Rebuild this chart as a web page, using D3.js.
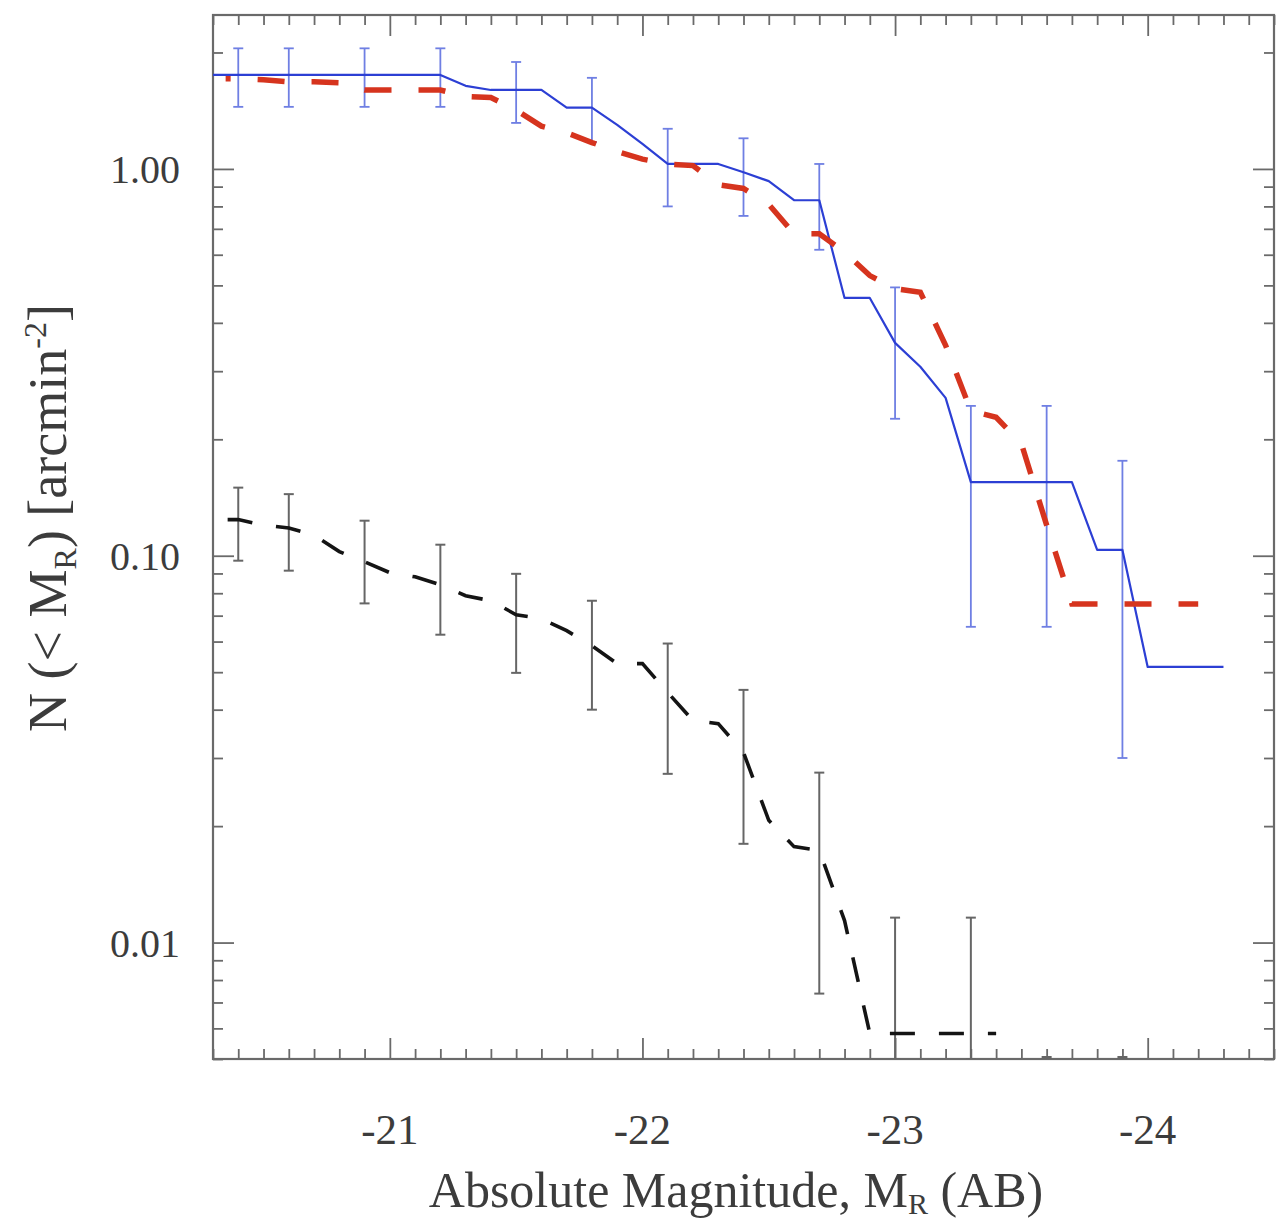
<!DOCTYPE html>
<html>
<head>
<meta charset="utf-8">
<script src="https://cdn.jsdelivr.net/npm/d3@7"></script>
<style>
  html, body { margin: 0; padding: 0; background: #fff; }
  svg { display: block; }
  text { font-family: "Liberation Serif", "DejaVu Serif", serif; fill: #3c3c3c; }
</style>
</head>
<body>
<svg id="chart" width="1276" height="1220"></svg>
<script>
// ---------- data ----------
const blueMag = [-20.3, -21.2, -21.3, -21.4, -21.5, -21.6, -21.7, -21.8, -21.9, -22.0, -22.1, -22.2, -22.3, -22.4, -22.5, -22.6, -22.7, -22.8, -22.9, -23.0, -23.1, -23.2, -23.3, -23.4, -23.5, -23.6, -23.7, -23.8, -23.9, -24.0, -24.1, -24.2, -24.3];
const blueN   = [1.75, 1.75, 1.64, 1.60, 1.60, 1.60, 1.44, 1.44, 1.30, 1.16, 1.03, 1.03, 1.03, 0.98, 0.93, 0.83, 0.83, 0.464, 0.464, 0.355, 0.308, 0.256, 0.155, 0.155, 0.155, 0.155, 0.155, 0.1035, 0.1035, 0.0516, 0.0516, 0.0516, 0.0516];

const redMag = [-20.35, -20.4, -20.5, -20.6, -20.7, -20.8, -20.9, -21.0, -21.1, -21.2, -21.3, -21.4, -21.5, -21.6, -21.7, -21.8, -21.9, -22.0, -22.1, -22.2, -22.3, -22.4, -22.5, -22.6, -22.7, -22.8, -22.9, -23.0, -23.1, -23.2, -23.3, -23.4, -23.5, -23.6, -23.7, -23.8, -23.9, -24.0, -24.1, -24.2];
const redN   = [1.71, 1.71, 1.70, 1.68, 1.68, 1.67, 1.60, 1.60, 1.60, 1.60, 1.54, 1.53, 1.42, 1.29, 1.24, 1.17, 1.11, 1.06, 1.03, 1.02, 0.91, 0.89, 0.81, 0.68, 0.68, 0.61, 0.53, 0.49, 0.48, 0.35, 0.237, 0.228, 0.195, 0.12, 0.075, 0.075, 0.075, 0.075, 0.075, 0.075];

const blackMag = [-20.35, -20.4, -20.5, -20.6, -20.7, -20.8, -20.9, -21.0, -21.1, -21.2, -21.3, -21.4, -21.5, -21.6, -21.7, -21.8, -21.9, -22.0, -22.1, -22.2, -22.3, -22.4, -22.5, -22.6, -22.7, -22.8, -22.9, -23.0, -23.1, -23.2, -23.3, -23.4];
const blackN   = [0.124, 0.124, 0.120, 0.118, 0.113, 0.1025, 0.0965, 0.0904, 0.0882, 0.0841, 0.0788, 0.0765, 0.0704, 0.0687, 0.0640, 0.0585, 0.0526, 0.0526, 0.0443, 0.0375, 0.0368, 0.0310, 0.0207, 0.0177, 0.0173, 0.0114, 0.00582, 0.00582, 0.00582, 0.00582, 0.00582, 0.00582];

const errMag      = [-20.4, -20.6, -20.9, -21.2, -21.5, -21.8, -22.1, -22.4, -22.7, -23.0, -23.3, -23.6, -23.9];
const blueErrHi   = [2.05, 2.05, 2.05, 2.05, 1.89, 1.72, 1.27, 1.20, 1.03, 0.494, 0.244, 0.244, 0.176];
const blueErrLo   = [1.447, 1.447, 1.447, 1.447, 1.315, 1.174, 0.80, 0.756, 0.618, 0.226, 0.0655, 0.0655, 0.0300];
const blackErrHi  = [0.150, 0.1443, 0.1232, 0.1068, 0.0898, 0.0765, 0.0593, 0.0450, 0.0275, 0.0116, 0.0116, 0.00506, 0.00506];
const blackErrLo  = [0.0971, 0.0915, 0.0753, 0.0625, 0.0498, 0.0400, 0.0273, 0.0180, 0.00738, 0.002, 0.002, 0.002, 0.002];

const xMajor = [-21, -22, -23, -24];
const xMajorLabels = ["-21", "-22", "-23", "-24"];
const yMajor = [1, 0.1, 0.01];
const yMajorLabels = ["1.00", "0.10", "0.01"];

// ---------- layout ----------
const L = 213, R = 1274, T = 15, B = 1059;
const svg = d3.select("#chart");
const x = d3.scaleLinear().domain([-20.3, -24.5]).range([L, R]);
const y = d3.scaleLog().domain([0.005, 2.5]).range([B, T]);

// minor tick values
const xMinor = d3.range(-203, -246, -1).map(d => d / 10).filter(v => !xMajor.some(m => Math.abs(m - v) < 1e-9));
const yMinor = [];
[0.001, 0.01, 0.1, 1].forEach(dec => { for (let k = 2; k <= 9; k++) { const v = +(dec * k).toPrecision(3); if (v >= 0.005 && v <= 2.5) yMinor.push(v); } });

svg.append("clipPath").attr("id", "clip").append("rect")
  .attr("x", L).attr("y", T).attr("width", R - L).attr("height", B - T);

const axisColor = "#6a6a6a";
function styleAxis(g) {
  g.select(".domain").remove();
  g.selectAll("line").attr("stroke", axisColor).attr("stroke-width", 1.8);
  g.selectAll("text").remove();
}
// bottom/top x ticks (inward)
svg.append("g").attr("transform", `translate(0,${B})`).call(d3.axisBottom(x).tickValues(xMinor).tickSize(-10)).call(styleAxis);
svg.append("g").attr("transform", `translate(0,${B})`).call(d3.axisBottom(x).tickValues(xMajor).tickSize(-21)).call(styleAxis);
svg.append("g").attr("transform", `translate(0,${T})`).call(d3.axisTop(x).tickValues(xMinor).tickSize(-10)).call(styleAxis);
svg.append("g").attr("transform", `translate(0,${T})`).call(d3.axisTop(x).tickValues(xMajor).tickSize(-21)).call(styleAxis);
// left/right y ticks (inward)
svg.append("g").attr("transform", `translate(${L},0)`).call(d3.axisLeft(y).tickValues(yMinor).tickSize(-10)).call(styleAxis);
svg.append("g").attr("transform", `translate(${L},0)`).call(d3.axisLeft(y).tickValues(yMajor).tickSize(-21)).call(styleAxis);
svg.append("g").attr("transform", `translate(${R},0)`).call(d3.axisRight(y).tickValues(yMinor).tickSize(-10)).call(styleAxis);
svg.append("g").attr("transform", `translate(${R},0)`).call(d3.axisRight(y).tickValues(yMajor).tickSize(-21)).call(styleAxis);

// frame
svg.append("rect").attr("x", L).attr("y", T).attr("width", R - L).attr("height", B - T)
  .attr("fill", "none").attr("stroke", axisColor).attr("stroke-width", 2.2);

// tick labels
svg.append("g").selectAll("text").data(xMajor).join("text")
  .attr("x", d => x(d)).attr("y", 1144).attr("text-anchor", "middle")
  .attr("font-size", 43).text((d, i) => xMajorLabels[i]);
svg.append("g").selectAll("text").data(yMajor).join("text")
  .attr("x", 180).attr("y", d => y(d)).attr("dy", "0.35em").attr("text-anchor", "end")
  .attr("font-size", 40).text((d, i) => yMajorLabels[i]);

// axis titles
const xt = svg.append("text").attr("x", 736).attr("y", 1207).attr("text-anchor", "middle").attr("font-size", 50);
xt.append("tspan").text("Absolute Magnitude, M");
xt.append("tspan").attr("font-size", 30).attr("dy", 7).text("R");
xt.append("tspan").attr("dy", -7).text(" (AB)");

const yt = svg.append("text").attr("transform", "translate(66,518) rotate(-90)").attr("text-anchor", "middle").attr("font-size", 54);
yt.append("tspan").text("N (< M");
yt.append("tspan").attr("font-size", 32).attr("dy", 10).text("R");
yt.append("tspan").attr("dy", -10).text(") [arcmin");
yt.append("tspan").attr("font-size", 32).attr("dy", -20).text("-2");
yt.append("tspan").attr("dy", 20).text("]");

// ---------- marks ----------
const plot = svg.append("g").attr("clip-path", "url(#clip)");
const line = d3.line().x(d => x(d[0])).y(d => y(d[1]));

function errorBars(hi, lo, color, width, cap) {
  const g = plot.append("g").attr("stroke", color).attr("stroke-width", width);
  errMag.forEach((m, i) => {
    const cx = x(m);
    const yt = y(hi[i]);
    const yb = Math.min(y(lo[i]), B);
    g.append("line").attr("x1", cx).attr("x2", cx).attr("y1", yt).attr("y2", yb);
    g.append("line").attr("x1", cx - cap).attr("x2", cx + cap).attr("y1", yt).attr("y2", yt);
    g.append("line").attr("x1", cx - cap).attr("x2", cx + cap).attr("y1", yb).attr("y2", yb);
  });
}

// black
errorBars(blackErrHi, blackErrLo, "#666666", 2, 5);
plot.append("path").datum(blackMag.map((m, i) => [m, blackN[i]]))
  .attr("d", line).attr("fill", "none").attr("stroke", "#141414").attr("stroke-width", 3.6)
  .attr("stroke-dasharray", "25,24").attr("stroke-dashoffset", -2);

// blue
errorBars(blueErrHi, blueErrLo, "#6f7fe3", 1.8, 5);
plot.append("path").datum(blueMag.map((m, i) => [m, blueN[i]]))
  .attr("d", line).attr("fill", "none").attr("stroke", "#2c3fd4").attr("stroke-width", 2.2)
  .attr("stroke-linejoin", "round");

// red
plot.append("path").datum(redMag.map((m, i) => [m, redN[i]]))
  .attr("d", line).attr("fill", "none").attr("stroke", "#d6341e").attr("stroke-width", 5.5)
  .attr("stroke-dasharray", "27,27").attr("stroke-dashoffset", 22);
</script>
</body>
</html>
